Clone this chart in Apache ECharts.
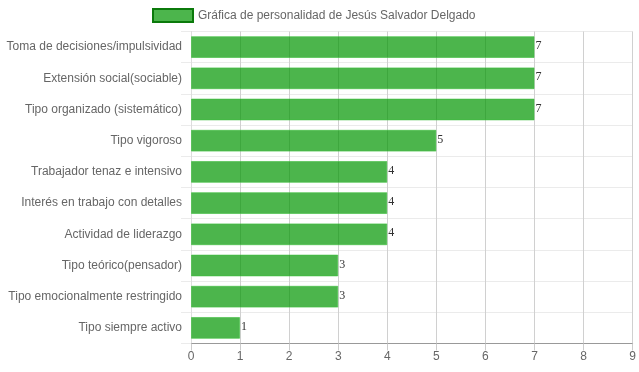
<!DOCTYPE html>
<html>
<head>
<meta charset="utf-8">
<script src="https://cdn.jsdelivr.net/npm/echarts@6/dist/echarts.min.js"></script>
<style>html,body{margin:0;padding:0;background:#fff}#c{width:639px;height:372px}</style>
</head>
<body>
<div id="c"></div>
<script>
var categories = [
  "Toma de decisiones/impulsividad",
  "Extensión social(sociable)",
  "Tipo organizado (sistemático)",
  "Tipo vigoroso",
  "Trabajador tenaz e intensivo",
  "Interés en trabajo con detalles",
  "Actividad de liderazgo",
  "Tipo teórico(pensador)",
  "Tipo emocionalmente restringido",
  "Tipo siempre activo"
];
var values = [7, 7, 7, 5, 4, 4, 4, 3, 3, 1];
var seriesName = "Gráfica de personalidad de Jesús Salvador Delgado";
var xTicks = [0, 1, 2, 3, 4, 5, 6, 7, 8, 9];

var chart = echarts.init(document.getElementById('c'), null, {renderer: 'canvas'});
chart.setOption({
  animation: false,
  textStyle: {fontFamily: 'Liberation Sans, Arial, sans-serif'},
  legend: {
    data: [{name: seriesName, itemStyle: {color: 'rgba(0,150,0,0.7)', borderColor: '#0b7a0b', borderWidth: 2}}],
    left: 147, top: 3,
    itemWidth: 40, itemHeight: 13, itemGap: 10,
    textStyle: {color: '#666', fontSize: 12, fontFamily: 'Liberation Sans, Arial, sans-serif'},
    icon: 'rect'
  },
  grid: {left: 191, right: 6, top: 31.5, bottom: 28.5, containLabel: false},
  xAxis: {
    type: 'value', min: xTicks[0], max: xTicks[xTicks.length - 1], interval: 1,
    axisLine: {show: true, lineStyle: {color: '#999', width: 1}},
    axisTick: {show: true, length: 7, lineStyle: {color: '#ccc'}},
    axisLabel: {color: '#666', fontSize: 12, margin: 7, fontFamily: 'Liberation Sans, Arial, sans-serif'},
    splitLine: {show: true, lineStyle: {color: '#d0d0d0', width: 1}}
  },
  yAxis: {
    type: 'category', data: categories, inverse: true,
    axisLine: {show: true, lineStyle: {color: '#ddd'}},
    axisTick: {show: true, length: 10, lineStyle: {color: '#ebebeb'}},
    axisLabel: {color: '#666', fontSize: 12, margin: 9, fontFamily: 'Liberation Sans, Arial, sans-serif'},
    splitLine: {show: true, lineStyle: {color: '#ebebeb', width: 1}}
  },
  series: [{
    name: seriesName,
    type: 'bar',
    data: values,
    barCategoryGap: '30%',
    itemStyle: {color: 'rgba(0,150,0,0.7)', borderColor: 'rgba(60,190,60,0.6)', borderWidth: 1},
    label: {
      show: true, position: 'right', distance: 1, offset: [0, -1],
      color: '#333', fontSize: 12, fontFamily: 'Liberation Serif, Times New Roman, serif'
    }
  }]
});
</script>
</body>
</html>
